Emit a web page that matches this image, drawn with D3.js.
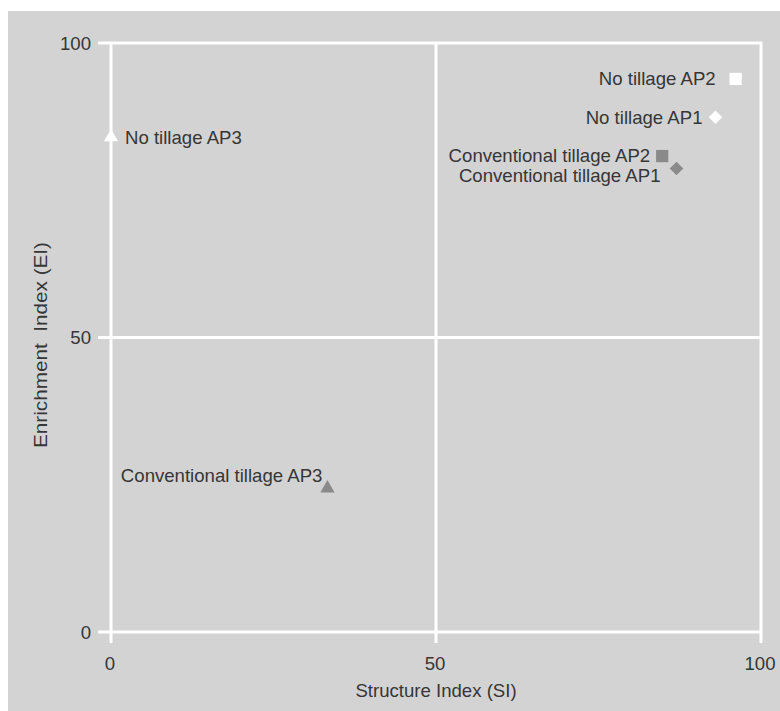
<!DOCTYPE html>
<html><head><meta charset="utf-8">
<script src="https://cdn.jsdelivr.net/npm/d3@7"></script>
<style>body{margin:0;background:#fff}svg{display:block}text{font-family:"Liberation Sans",Arial,sans-serif}</style>
</head><body><div id="chart"></div>
<script>
const labels = ["No tillage AP3","No tillage AP2","No tillage AP1","Conventional tillage AP2","Conventional tillage AP1","Conventional tillage AP3"];
const siValues = [0, 96.1, 93.0, 84.8, 87.0, 33.3];
const eiValues = [84, 93.9, 87.4, 80.8, 78.7, 24.4];
const shapes = ["triangle","square","diamond","square","diamond","triangle"];
const groups = ["No tillage","No tillage","No tillage","Conventional tillage","Conventional tillage","Conventional tillage"];
const tickValues = [0, 50, 100];

// layout-only settings (label placement relative to marker)
const labelLayout = [
  {anchor: "start", dx: 14, dy: 0},
  {anchor: "end", dx: -20, dy: -1},
  {anchor: "end", dx: -13, dy: 0},
  {anchor: "end", dx: -12, dy: -1},
  {anchor: "end", dx: -16, dy: 7},
  {anchor: "end", dx: -5, dy: -13}
];
const colorMap = {"No tillage": "#ffffff", "Conventional tillage": "#8a8a8a"};

const W = 780, H = 711, FS = 18.6, TXT = "#363636";
const svg = d3.select("#chart").append("svg").attr("width", W).attr("height", H);
svg.append("rect").attr("x", 8).attr("y", 11).attr("width", W - 8).attr("height", H - 11).attr("fill", "#d3d3d4");

const x = d3.scaleLinear().domain([0, 100]).range([111, 761]);
const y = d3.scaleLinear().domain([0, 100]).range([632, 43]);

const g = svg.append("g");
tickValues.forEach(v => {
  g.append("line").attr("x1", 98).attr("x2", x(100) + 1).attr("y1", y(v)).attr("y2", y(v))
    .attr("stroke", "#fff").attr("stroke-width", 3);
});
tickValues.forEach(v => {
  g.append("line").attr("x1", x(v)).attr("x2", x(v)).attr("y1", y(100) - 1).attr("y2", 643)
    .attr("stroke", "#fff").attr("stroke-width", 3);
});
tickValues.forEach(v => {
  g.append("text").attr("x", 91).attr("y", y(v)).attr("dy", "0.36em").attr("text-anchor", "end")
    .attr("font-size", FS).attr("fill", TXT).text(v);
  g.append("text").attr("x", x(v) - 1).attr("y", 670).attr("text-anchor", "middle")
    .attr("font-size", FS).attr("fill", TXT).text(v);
});
svg.append("text").attr("x", 436).attr("y", 697).attr("text-anchor", "middle")
  .attr("font-size", FS).attr("fill", TXT).text("Structure Index (SI)");
svg.append("text").attr("transform", "translate(47,345) rotate(-90)").attr("text-anchor", "middle")
  .attr("font-size", 19).attr("fill", TXT).style("white-space", "pre")
  .attr("textLength", 206).attr("lengthAdjust", "spacingAndGlyphs")
  .text("Enrichment  Index (EI)");

function markerPath(shape) {
  if (shape === "triangle") return d3.symbol().type(d3.symbolTriangle).size(88)();
  if (shape === "square") return d3.symbol().type(d3.symbolSquare).size(150)();
  const r = 6.8;
  return `M0,${-r}L${r},0L0,${r}L${-r},0Z`;
}

labels.forEach((lab, i) => {
  const px = x(siValues[i]), py = y(eiValues[i]);
  svg.append("path").attr("d", markerPath(shapes[i]))
    .attr("transform", `translate(${px},${py})`).attr("fill", colorMap[groups[i]]);
  const L = labelLayout[i];
  svg.append("text").attr("x", px + L.dx).attr("y", py + L.dy).attr("dy", "0.36em")
    .attr("text-anchor", L.anchor).attr("font-size", FS).attr("fill", TXT).text(lab);
});
</script></body></html>
